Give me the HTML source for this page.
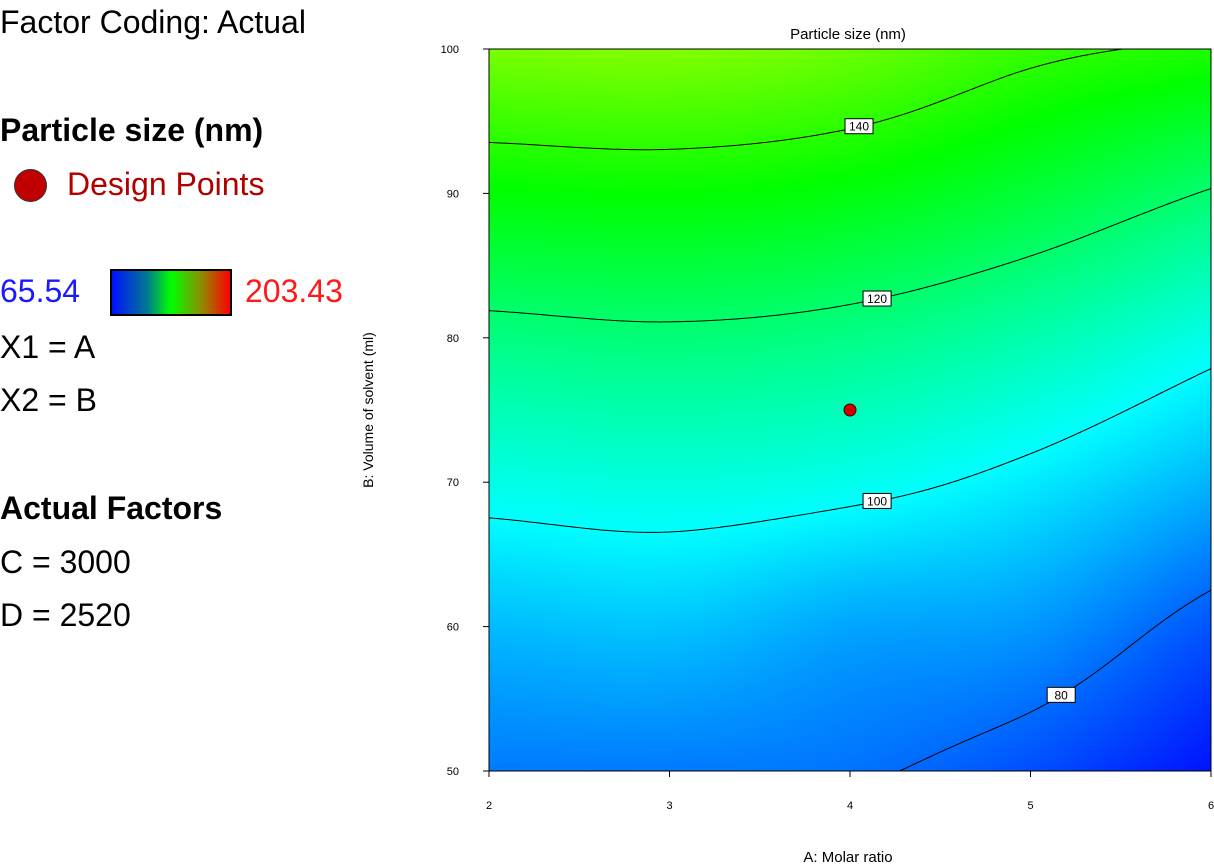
<!DOCTYPE html>
<html><head><meta charset="utf-8">
<style>
body{margin:0;width:1214px;height:867px;background:#fff;position:relative;overflow:hidden;font-family:"Liberation Sans",sans-serif;}
.t{position:absolute;white-space:nowrap;color:#000;}
.big{font-size:32px;}
.b{font-weight:bold;}
</style></head><body>
<div class="t big" style="left:0;top:4px">Factor Coding: Actual</div>
<div class="t big b" style="left:0;top:112px">Particle size (nm)</div>
<div style="position:absolute;left:14px;top:169px;width:33px;height:33px;border-radius:50%;background:#c00000;border:1px solid #333;box-sizing:border-box"></div>
<div class="t big" style="left:67px;top:166px;color:#b00000">Design Points</div>
<div class="t big" style="left:0;top:273px;color:#1a1aff">65.54</div>
<div style="position:absolute;left:110px;top:269px;width:122px;height:47px;box-sizing:border-box;border:2px solid #000;background:linear-gradient(to right,#0010ff 0%,#007a90 30%,#00ff00 50%,#8a9000 75%,#ff0000 100%)"></div>
<div class="t big" style="left:245px;top:273px;color:#ff1a1a">203.43</div>
<div class="t big" style="left:0;top:329px">X1 = A</div>
<div class="t big" style="left:0;top:382px">X2 = B</div>
<div class="t big b" style="left:0;top:490px">Actual Factors</div>
<div class="t big" style="left:0;top:544px">C = 3000</div>
<div class="t big" style="left:0;top:597px">D = 2520</div>

<canvas id="cv" width="722" height="722" style="position:absolute;left:489px;top:49px"></canvas>
<svg id="sv" width="1214" height="867" style="position:absolute;left:0;top:0"></svg>

<script>
const aVals=[2,3,4,5,6];
const bVals=[50,60,70,80,90,100];
const sizeA2=[82,91,103.2,117,134,151];
const sizeA3=[82,92,104.5,118.3,134.8,152];
const sizeA4=[81,88,102.5,116.4,132.7,149];
const sizeA5=[76,86,97.5,111,127,142];
const sizeA6=[68,77,90,103,119.4,138.5];
const grid=[sizeA2,sizeA3,sizeA4,sizeA5,sizeA6];
const contourLevels=[80,100,120,140];
const labelA=[5.17,4.15,4.15,4.05];
const designA=[4];const designB=[75];
const xTicks=[2,3,4,5,6];
const yTicks=[50,60,70,80,90,100];
const vMin=65.54,vMax=203.43;

const PL=489,PT=49,PW=722,PH=722;
const xs=a=>PL+(a-2)/4*PW;
const ys=b=>PT+(100-b)/50*PH;
function cr(p0,p1,p2,p3,t){return 0.5*((2*p1)+(-p0+p2)*t+(2*p0-5*p1+4*p2-p3)*t*t+(-p0+3*p1-3*p2+p3)*t*t*t);}
function ext(i,j){
  let ci=Math.max(0,Math.min(4,i)),cj=Math.max(0,Math.min(5,j));
  let v=grid[ci][cj];
  if(i<0)v=2*grid[0][cj]-grid[1][cj];if(i>4)v=2*grid[4][cj]-grid[3][cj];
  if(j<0)v=2*grid[ci][0]-grid[ci][1];if(j>5)v=2*grid[ci][5]-grid[ci][4];
  return v;}
function f(a,b){
  let u=a-2,v=(b-50)/10;
  let i=Math.min(3,Math.floor(u)),j=Math.min(4,Math.floor(v));
  let tu=u-i,tv=v-j,col=[];
  for(let k=-1;k<3;k++){col.push(cr(ext(i+k,j-1),ext(i+k,j),ext(i+k,j+1),ext(i+k,j+2),tv));}
  return cr(col[0],col[1],col[2],col[3],tu);}
function cmap(val){
  let t=Math.max(0,Math.min(1,(val-vMin)/(vMax-vMin)));
  const st=[[0,0,0,255],[0.25,0,255,255],[0.5,0,255,0],[0.75,255,255,0],[1,255,0,0]];
  for(let k=0;k<4;k++){if(t<=st[k+1][0]){let s=(t-st[k][0])/(st[k+1][0]-st[k][0]);
    return [0,1,2].map(c=>Math.round(st[k][c+1]+(st[k+1][c+1]-st[k][c+1])*s));}}
  return [255,0,0];}
const cv=document.getElementById('cv'),ctx=cv.getContext('2d');
const img=ctx.createImageData(PW,PH);
for(let y=0;y<PH;y++)for(let x=0;x<PW;x++){
  let a=2+(x+0.5)/PW*4,b=100-(y+0.5)/PH*50;let c=cmap(f(a,b));let o=(y*PW+x)*4;
  img.data[o]=c[0];img.data[o+1]=c[1];img.data[o+2]=c[2];img.data[o+3]=255;}
ctx.putImageData(img,0,0);

const NS='http://www.w3.org/2000/svg',sv=document.getElementById('sv');
function mk(tag,at,txt){const e=document.createElementNS(NS,tag);for(const k in at)e.setAttribute(k,at[k]);if(txt!==undefined)e.textContent=txt;sv.appendChild(e);return e;}
const N=240;
const vals=[];for(let i=0;i<=N;i++){vals.push([]);for(let j=0;j<=N;j++)vals[i].push(f(2+4*i/N,50+50*j/N));}
contourLevels.forEach((L,li)=>{
  let d='';
  for(let i=0;i<N;i++)for(let j=0;j<N;j++){
    const c=[[i,j],[i+1,j],[i+1,j+1],[i,j+1]];const pts=[];
    for(let k=0;k<4;k++){const p=c[k],q=c[(k+1)%4];const v1=vals[p[0]][p[1]],v2=vals[q[0]][q[1]];
      if((v1-L)*(v2-L)<0){const t=(L-v1)/(v2-v1);const gi=p[0]+(q[0]-p[0])*t,gj=p[1]+(q[1]-p[1])*t;
        pts.push([xs(2+4*gi/N),ys(50+50*gj/N)]);}}
    if(pts.length>=2)d+=`M${pts[0][0].toFixed(2)},${pts[0][1].toFixed(2)}L${pts[1][0].toFixed(2)},${pts[1][1].toFixed(2)}`;
    if(pts.length==4)d+=`M${pts[2][0].toFixed(2)},${pts[2][1].toFixed(2)}L${pts[3][0].toFixed(2)},${pts[3][1].toFixed(2)}`;
  }
  const p=mk('path',{d:d,stroke:'#000','stroke-width':1,fill:'none'});
  
  
  let a=labelA[li],lo=50,hi=100;
  for(let k=0;k<40;k++){const m=(lo+hi)/2;if(f(a,m)<L)lo=m;else hi=m;}
  const lx=xs(a),ly=ys(lo);
  const r=mk('rect',{x:lx-14,y:ly-8,width:28,height:15,fill:'#fff',stroke:'#000','stroke-width':1});
  
  
  const t=mk('text',{x:lx,y:ly+4,'font-size':12,'text-anchor':'middle','font-family':'Liberation Sans, sans-serif'},L);
  
  
});
const fr=mk('rect',{x:PL,y:PT,width:PW,height:PH,fill:'none',stroke:'#000','stroke-width':1});


yTicks.forEach(v=>{
  const l=mk('line',{x1:PL-6,x2:PL,y1:ys(v),y2:ys(v),stroke:'#000'});
  
  
  const t=mk('text',{x:PL-30,y:ys(v)+4,'font-size':11,'text-anchor':'end','font-family':'Liberation Sans, sans-serif'},v);
  
  
});
xTicks.forEach(v=>{
  const l=mk('line',{x1:xs(v),x2:xs(v),y1:PT+PH,y2:PT+PH+6,stroke:'#000'});
  
  
  const t=mk('text',{x:xs(v),y:PT+PH+38,'font-size':11,'text-anchor':'middle','font-family':'Liberation Sans, sans-serif'},v);
  
  
});
designA.forEach((a,k)=>{
  const c=mk('circle',{cx:xs(a),cy:ys(designB[k]),r:6,fill:'#d00000',stroke:'#400',"stroke-width":1});
  
  
});
const tt=mk('text',{x:848,y:39,'font-size':15,'text-anchor':'middle','font-family':'Liberation Sans, sans-serif'},'Particle size (nm)');


const xt=mk('text',{x:848,y:862,'font-size':15,'text-anchor':'middle','font-family':'Liberation Sans, sans-serif'},'A: Molar ratio');


const yt=mk('text',{x:0,y:0,'font-size':14,'text-anchor':'middle','font-family':'Liberation Sans, sans-serif',transform:'translate(373,410) rotate(-90)'},'B: Volume of solvent (ml)');


</script>
</body></html>
